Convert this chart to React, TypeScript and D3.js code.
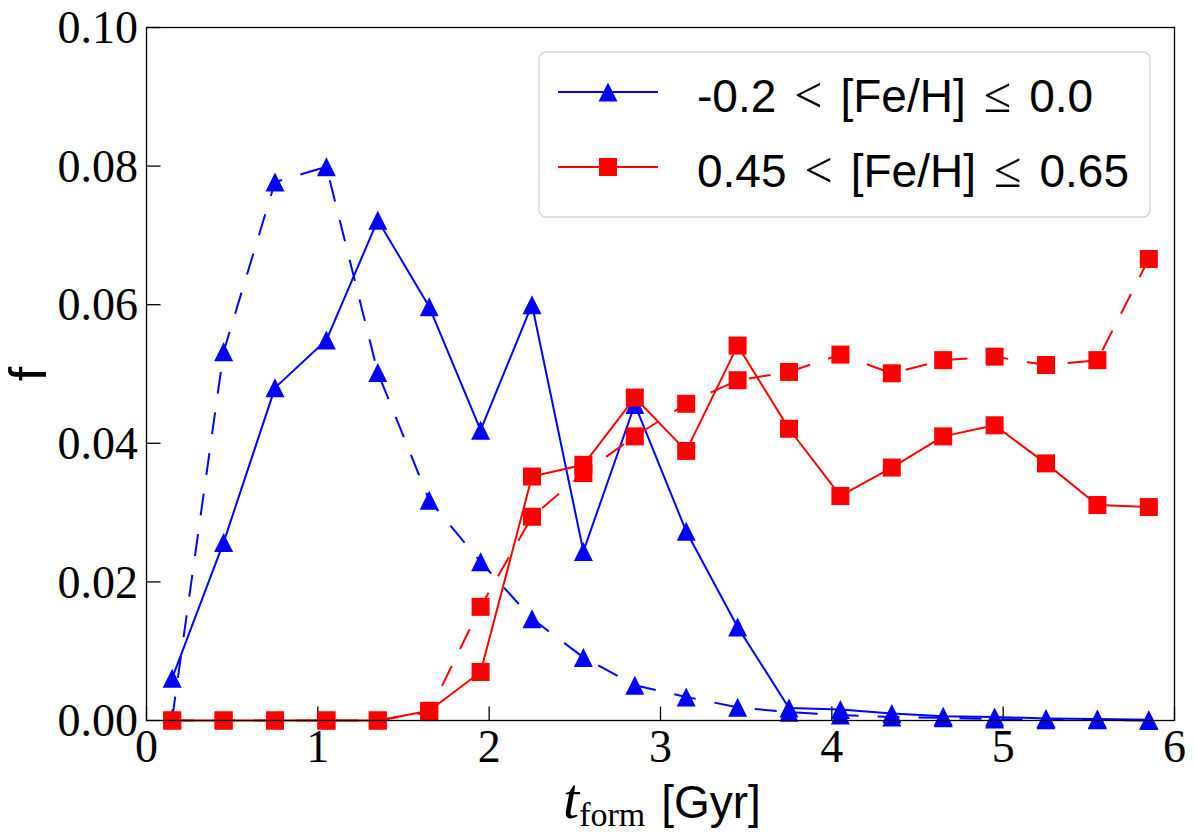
import React from 'react';
import * as d3 from 'd3';

const binCenters = [0.15, 0.45, 0.75, 1.05, 1.35, 1.65, 1.95, 2.25, 2.55, 2.85, 3.15, 3.45, 3.75, 4.05, 4.35, 4.65, 4.95, 5.25, 5.55, 5.85];

const lowFeSolid = [0.0061, 0.0257, 0.0480, 0.0549, 0.0722, 0.0597, 0.0419, 0.0600, 0.0244, 0.0456, 0.0273, 0.0135, 0.0018, 0.0016, 0.0010, 0.0006, 0.0005, 0.0003, 0.0002, 0.0001];
const lowFeDashed = [0.0003, 0.0532, 0.0777, 0.0799, 0.0502, 0.0318, 0.0229, 0.0147, 0.0091, 0.0051, 0.0034, 0.0019, 0.0012, 0.0008, 0.0005, 0.0004, 0.0002, 0.0001, 0.0001, 0.0000];
const highFeSolid = [0, 0, 0, 0, 0, 0.0014, 0.0070, 0.0352, 0.0369, 0.0466, 0.0389, 0.0541, 0.0421, 0.0324, 0.0365, 0.0410, 0.0426, 0.0371, 0.0311, 0.0308];
const highFeDashed = [0, 0, 0, 0, 0, 0.0012, 0.0164, 0.0294, 0.0357, 0.0410, 0.0457, 0.0491, 0.0503, 0.0528, 0.0501, 0.0520, 0.0525, 0.0513, 0.0520, 0.0666];

const xTicks = [0, 1, 2, 3, 4, 5, 6];
const yTicks = [0, 0.02, 0.04, 0.06, 0.08, 0.1];

const W = 1196;
const H = 835;
const left = 146.5, right = 1174.5, top = 27.5, bottom = 720.5;

const BLUE = '#0000ff';
const RED = '#ff0000';
const serif = '"Liberation Serif", "DejaVu Serif", serif';
const sans = '"Liberation Sans", Arial, sans-serif';

type Series = { values: number[]; color: string; dashed: boolean; marker: 'tri' | 'sq' };

const series: Series[] = [
  { values: lowFeSolid, color: BLUE, dashed: false, marker: 'tri' },
  { values: lowFeDashed, color: BLUE, dashed: true, marker: 'tri' },
  { values: highFeSolid, color: RED, dashed: false, marker: 'sq' },
  { values: highFeDashed, color: RED, dashed: true, marker: 'sq' }
];

const Marker = ({ kind, cx, cy, color }: { kind: 'tri' | 'sq'; cx: number; cy: number; color: string }) => {
  if (kind === 'tri') {
    const h = 9.5;
    return <path d={`M${cx},${cy - h}L${cx - h},${cy + h}L${cx + h},${cy + h}Z`} fill={color} />;
  }
  const s = 9;
  return <rect x={cx - s} y={cy - s} width={2 * s} height={2 * s} fill={color} />;
};

export default function App() {
  const x = d3.scaleLinear().domain([0, 6]).range([left, right]);
  const y = d3.scaleLinear().domain([0, 0.1]).range([bottom, top]);
  const line = d3.line<number>().x((_, i) => x(binCenters[i])).y((d) => y(d));

  const legendItems = [
    { color: BLUE, marker: 'tri' as const, parts: ['-0.2', '<', '[Fe/H]', '≤', '0.0'] },
    { color: RED, marker: 'sq' as const, parts: ['0.45', '<', '[Fe/H]', '≤', '0.65'] }
  ];

  return (
    <div style={{ position: 'absolute', left: 0, top: 0 }}>
      <svg width={W} height={H} viewBox={`0 0 ${W} ${H}`} style={{ display: 'block', background: '#fff' }}>
        <rect x={0} y={0} width={W} height={H} fill="#fff" />
        <defs>
          <clipPath id="plot-clip">
            <rect x={left - 12} y={top - 12} width={right - left + 24} height={bottom - top + 24} />
          </clipPath>
        </defs>

        {/* ticks, inward */}
        {xTicks.map((t) => (
          <g key={`xt${t}`}>
            <line x1={x(t)} x2={x(t)} y1={bottom} y2={bottom - 14} stroke="#000" strokeWidth={1.3} />
            <text x={x(t)} y={762} fontFamily={serif} fontSize={46} textAnchor="middle">{t}</text>
          </g>
        ))}
        {yTicks.map((t) => (
          <g key={`yt${t}`}>
            <line x1={left} x2={left + 14} y1={y(t)} y2={y(t)} stroke="#000" strokeWidth={1.3} />
            <text x={138} y={y(t)} dy="0.34em" fontFamily={serif} fontSize={46} textAnchor="end">{t.toFixed(2)}</text>
          </g>
        ))}

        {/* series */}
        <g clipPath="url(#plot-clip)">
          {series.map((s, si) => (
            <g key={`s${si}`}>
              <path
                d={line(s.values) || ''}
                fill="none"
                stroke={s.color}
                strokeWidth={2}
                strokeDasharray={s.dashed ? '22,19' : undefined}
                strokeLinejoin="round"
              />
              {s.values.map((v, i) => (
                <Marker key={i} kind={s.marker} cx={x(binCenters[i])} cy={y(v)} color={s.color} />
              ))}
            </g>
          ))}
        </g>

        {/* frame */}
        <rect x={left} y={top} width={right - left} height={bottom - top} fill="none" stroke="#000" strokeWidth={1.3} />

        {/* legend */}
        <rect x={539} y={52} width={611} height={165} rx={7} fill="#fff" fillOpacity={0.8} stroke="#d6d6d6" strokeWidth={1.3} />
        {legendItems.map((it, i) => {
          const ly = 92 + i * 75;
          return (
            <g key={`lg${i}`}>
              <line x1={558} x2={658} y1={ly} y2={ly} stroke={it.color} strokeWidth={2} />
              <Marker kind={it.marker} cx={608} cy={ly} color={it.color} />
              <text x={697} y={ly + 20} fontSize={46} fontFamily={sans}>
                <tspan>{it.parts[0]}</tspan>
                <tspan fontFamily={serif} fontSize={50} dx={18}>{it.parts[1]}</tspan>
                <tspan dx={18}>{it.parts[2]}</tspan>
                <tspan fontFamily={serif} fontSize={50} dx={18}>{it.parts[3]}</tspan>
                <tspan dx={18}>{it.parts[4]}</tspan>
              </text>
            </g>
          );
        })}

        {/* axis labels */}
        <text x={563} y={818} fontFamily={serif} fontSize={58}>
          <tspan fontStyle="italic">t</tspan>
          <tspan fontSize={34} dy={8}>form</tspan>
          <tspan fontFamily={sans} fontSize={46} dy={-8} dx={16}>[Gyr]</tspan>
        </text>
        <text transform="translate(46,374) rotate(-90)" fontFamily={sans} fontSize={52} textAnchor="middle">f</text>
      </svg>
    </div>
  );
}
